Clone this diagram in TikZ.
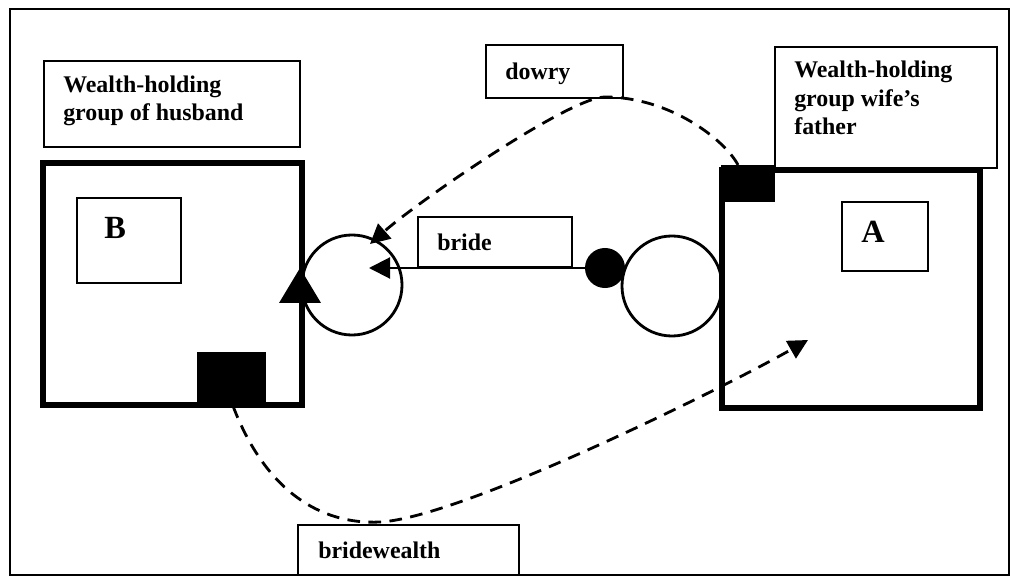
\documentclass[tikz,border=0pt]{standalone}
\usepackage{fontspec}
\setmainfont{Liberation Serif}
\usetikzlibrary{arrows.meta}

\tikzset{
  thinbox/.style={line width=1.1pt},
  groupbox/.style={line width=4pt},
  lbl/.style={font=\fontsize{17}{20.3}\selectfont\bfseries, inner sep=0pt, align=left, anchor=base west},
  big/.style={lbl, font=\fontsize{23}{27}\selectfont\bfseries},
  ring/.style={draw, circle, line width=2pt, minimum size=2.5cm, inner sep=0pt},
  flow/.style={line width=2pt, dash pattern=on 9pt off 6pt, -{Triangle[length=14pt,width=14pt]}},
}

\begin{document}
\begin{tikzpicture}[x=0.025cm, y=-0.025cm]
  \useasboundingbox (0,0) rectangle (1012,576);
  % frame
  \draw[thinbox] (10,9) rectangle (1009,575);

  % husband's group
  \draw[thinbox] (44,61) rectangle (300,147);
  \node[lbl] (husbandtxt) at (63,121) {Wealth-holding\\group of husband};
  \draw[groupbox] (43,163) rectangle (302,405);
  \draw[thinbox] (77,198) rectangle (181,283);
  \node[big] (btxt) at (104,239) {B};
  \fill (197,352) rectangle (266,405);
  \coordinate (bsq) at (233,406);
  \fill (300,268) -- (321,303) -- (279,303) -- cycle;

  % wife's father's group
  \draw[thinbox] (775,47) rectangle (997,168);
  \node[lbl] (fathertxt) at (794,135) {Wealth-holding\\group wife’s\\father};
  \draw[groupbox] (722,170) rectangle (980,408);
  \draw[thinbox] (842,202) rectangle (928,271);
  \node[big] (atxt) at (861,243) {A};
  \fill (721,165) rectangle (775,202);
  \coordinate (asq) at (738,165);

  % circles and the bride
  \node[ring] (lring) at (352,285) {};
  \node[ring] (rring) at (672,286) {};
  \node[fill, circle, minimum size=1cm, inner sep=0pt] (dot) at (605,268) {};
  \coordinate (bridetip) at (369,268);
  \draw[line width=1.5pt, -{Triangle[length=15pt,width=15pt]}] (dot.center) -- (bridetip);
  \draw[thinbox, fill=white] (418,217) rectangle (572,267);
  \node[lbl] (bridetxt) at (437,251) {bride};

  % dowry
  \draw[thinbox] (486,45) rectangle (623,98);
  \node[lbl] (dowrytxt) at (505,80) {dowry};
  \coordinate (dowrytop) at (605,97);
  \coordinate (dowrytip) at (370,244);
  \draw[flow] (asq) .. controls (725,140) and (670,97) .. (dowrytop)
    .. controls (570,97) and (420,200) .. (dowrytip);

  % bridewealth
  \draw[thinbox] (298,525) rectangle (519,575);
  \node[lbl] (wealthtxt) at (318,558) {bridewealth};
  \coordinate (wealthlow) at (380,522);
  \coordinate (wealthtip) at (808,340);
  \draw[flow] (bsq) .. controls (265,490) and (320,525) .. (wealthlow)
    .. controls (460,518) and (720,390) .. (wealthtip);
\end{tikzpicture}
\end{document}
